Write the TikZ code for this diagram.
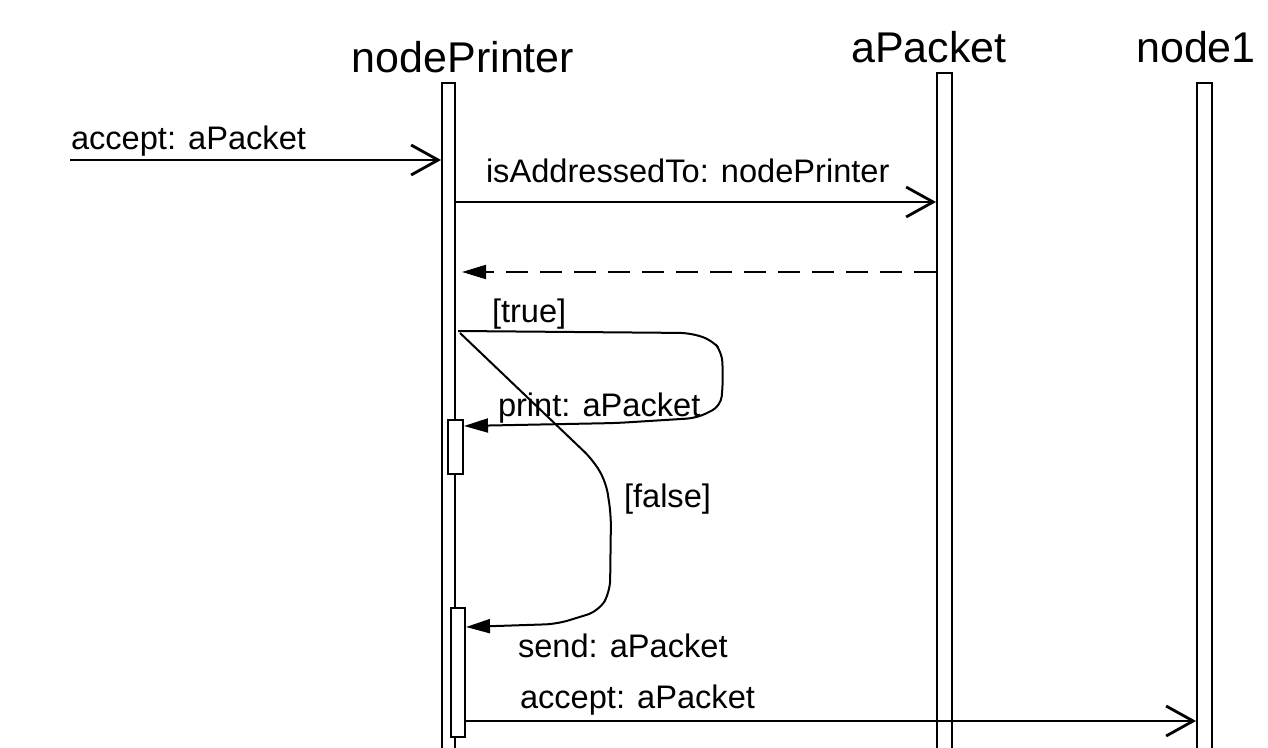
\documentclass[tikz,border=0pt]{standalone}
\usepackage{fontspec}
\setmainfont{Liberation Sans}
\usetikzlibrary{arrows.meta}
\begin{document}
\begin{tikzpicture}[x=0.5pt,y=-0.5pt,line width=1pt,
  openarrow/.style={-{Straight Barb[length=13.5pt,width=15pt,line width=1.4pt]}},
  fillarrow/.style={-{Triangle[length=12pt,width=7pt]}},
  life/.style={draw,fill=white,inner sep=0pt,minimum width=6.5pt},
  actbox/.style={draw,fill=white,inner sep=0pt},
  title/.style={font=\fontsize{21.5}{26}\selectfont,inner sep=0pt,anchor=base},
  lbl/.style={font=\fontsize{16.3}{20}\selectfont,inner sep=0pt,anchor=base west}]
\useasboundingbox (0,0) rectangle (1268,748);
% rows
\coordinate (r1) at (0,160);
\coordinate (r2) at (0,202);
\coordinate (r3) at (0,272);
\coordinate (r4) at (0,721);
% lifelines
\node[life,minimum width=6.5pt,minimum height=338.5pt] (np) at (448.5,421.5) {};
\node[life,minimum width=7.5pt,minimum height=343.5pt] (ap) at (944.5,416.5) {};
\node[life,minimum width=7.5pt,minimum height=338.5pt] (n1) at (1204.5,421.5) {};
% titles
\node[title] (tnp) at (463,73) {nodePrinter};
\node[title] (tap) at (929,63) {aPacket};
\node[title] (tn1) at (1196,63) {node1};
% activation boxes
\node[actbox,minimum width=7.5pt,minimum height=27pt] (pb) at (455.5,447) {};
\node[actbox,minimum width=7pt,minimum height=64.5pt] (sb) at (458,672.5) {};
% incoming
\coordinate (in) at (70,160);
\draw[openarrow] (in) -- (np.west |- r1);
\node[lbl] (l1) at (70,150) {accept: aPacket};
% isAddressedTo
\draw[openarrow] (np.east |- r2) -- (ap.west |- r2);
\node[lbl] (l2) at (485,183) {isAddressedTo: nodePrinter};
% return
\draw[fillarrow,dash pattern=on 11pt off 6pt,shorten >=3pt] (ap.west |- r3) -- (np.east |- r3);
% true branch
\coordinate (ts) at (458,331);
\coordinate (fs) at (460,333);
\node[lbl] (l3) at (491,323) {[true]};
\draw[fillarrow,rounded corners=5pt] (ts) -- (690,333) -- (712,340) -- (722,352) -- (723,380) -- (721,406) -- (697,418) -- (617,423) -- ([yshift=-3.5pt]pb.north east);
\node[lbl] (l4) at (497,416) {print: aPacket};
% false branch
\draw[fillarrow,rounded corners=6pt] (fs) -- (593,460) -- (606,482) -- (611,515) -- (610,592) -- (599,611) -- (557,624) -- ([yshift=-10pt]sb.north east);
\node[lbl] (l5) at (623,507) {[false]};
\node[lbl] (l6) at (517,657) {send: aPacket};
\node[lbl] (l7) at (519,708) {accept: aPacket};
% forward
\draw[openarrow] (sb.east |- r4) -- (n1.west |- r4);
\end{tikzpicture}
\end{document}
